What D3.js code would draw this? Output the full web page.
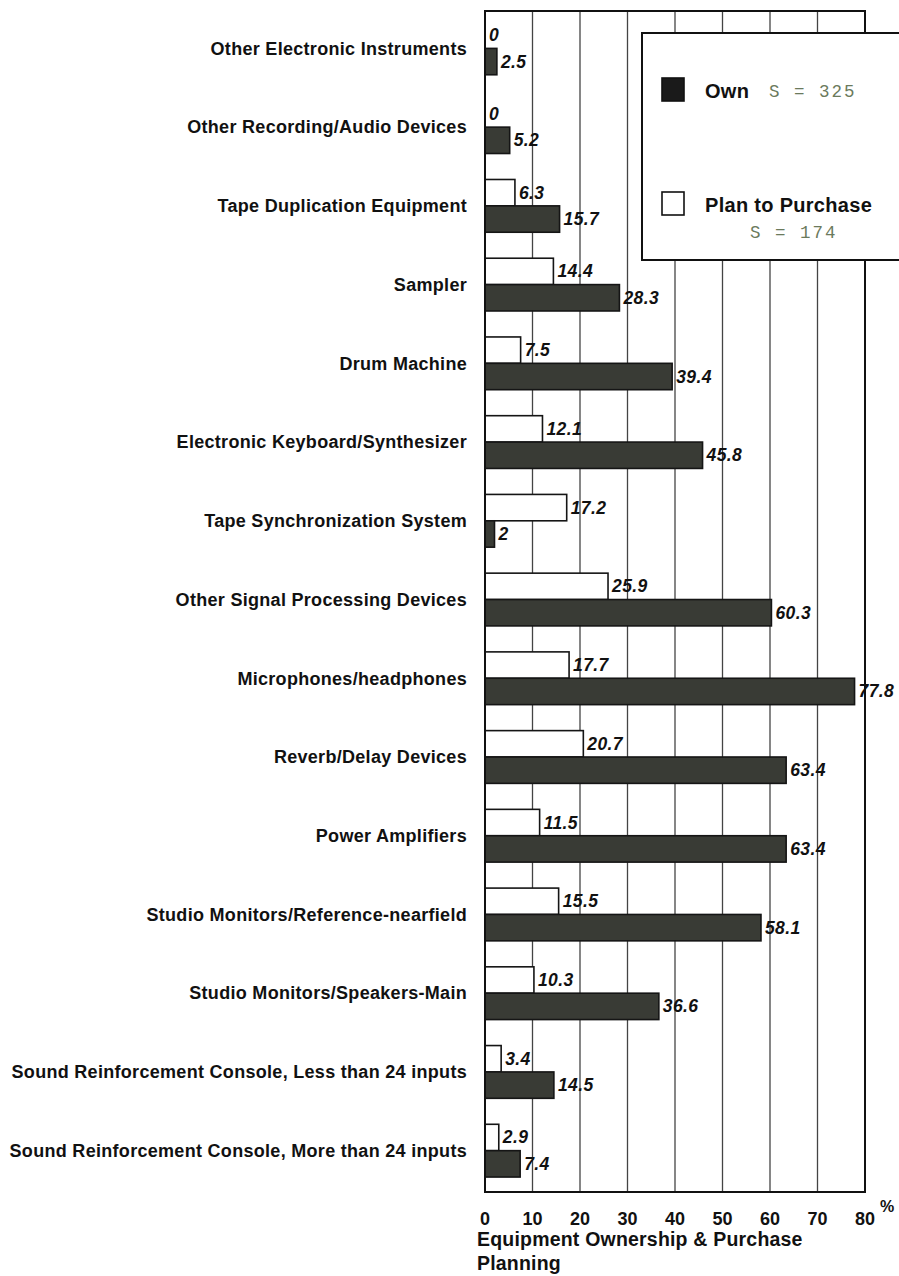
<!DOCTYPE html>
<html>
<head>
<meta charset="utf-8">
<script src="https://cdn.jsdelivr.net/npm/d3@7/dist/d3.min.js"></script>
<style>
  body { margin: 0; background: #fff; }
  svg { display: block; font-family: "Liberation Sans", Arial, sans-serif; }
</style>
</head>
<body>
<svg id="chart" width="899" height="1276"></svg>
<script>
// data, top to bottom
const categories = [
  "Other Electronic Instruments",
  "Other Recording/Audio Devices",
  "Tape Duplication Equipment",
  "Sampler",
  "Drum Machine",
  "Electronic Keyboard/Synthesizer",
  "Tape Synchronization System",
  "Other Signal Processing Devices",
  "Microphones/headphones",
  "Reverb/Delay Devices",
  "Power Amplifiers",
  "Studio Monitors/Reference-nearfield",
  "Studio Monitors/Speakers-Main",
  "Sound Reinforcement Console, Less than 24 inputs",
  "Sound Reinforcement Console, More than 24 inputs"
];
const planValues = [0, 0, 6.3, 14.4, 7.5, 12.1, 17.2, 25.9, 17.7, 20.7, 11.5, 15.5, 10.3, 3.4, 2.9];
const ownValues  = [2.5, 5.2, 15.7, 28.3, 39.4, 45.8, 2, 60.3, 77.8, 63.4, 63.4, 58.1, 36.6, 14.5, 7.4];
const xTicks = [0, 10, 20, 30, 40, 50, 60, 70, 80];
const legendItems = [
  {key: "own", label: "Own", sample: "S = 325"},
  {key: "plan", label: "Plan to Purchase", sample: "S = 174"}
];

const rows = categories.map((c, i) => ({cat: c, plan: planValues[i], own: ownValues[i]}));

const svg = d3.select("#chart");
const plotTop = 11, plotBottom = 1192;

const x = d3.scaleLinear().domain([0, 80]).range([485, 865]);
const y = d3.scaleBand().domain(categories).range([plotTop, plotBottom]);
const bw = y.bandwidth();
const ySub = d3.scaleBand().domain(["plan", "own"]).range([0.14 * bw, 0.81 * bw]);

const fill = {own: "#393b35", plan: "#fff"};

// gridlines
svg.append("g").selectAll("line")
  .data(xTicks.slice(1, -1)).enter().append("line")
  .attr("x1", d => x(d)).attr("x2", d => x(d))
  .attr("y1", plotTop).attr("y2", plotBottom)
  .attr("stroke", "#444").attr("stroke-width", 1.3);

// bars
const groups = svg.append("g").selectAll("g")
  .data(rows).enter().append("g")
  .attr("transform", d => `translate(0,${y(d.cat)})`);

["plan", "own"].forEach(k => {
  groups.append("rect")
    .attr("x", x(0))
    .attr("y", ySub(k))
    .attr("width", d => x(d[k]) - x(0))
    .attr("height", ySub.bandwidth())
    .attr("fill", fill[k])
    .attr("stroke", "#151515")
    .attr("stroke-width", 1.6);

  groups.append("text")
    .attr("x", d => x(d[k]) + 4)
    .attr("y", ySub(k) + ySub.bandwidth() / 2 + 6)
    .attr("font-size", 17.5)
    .attr("letter-spacing", 0.4)
    .attr("font-weight", "bold")
    .attr("font-style", "italic")
    .attr("fill", "#111")
    .text(d => d[k]);
});

// category labels
svg.append("g").selectAll("text")
  .data(rows).enter().append("text")
  .attr("x", 467)
  .attr("y", d => y(d.cat) + ySub("own"))
  .attr("dy", "0.35em")
  .attr("text-anchor", "end")
  .attr("font-size", 18)
  .attr("letter-spacing", 0.3)
  .attr("font-weight", "bold")
  .attr("fill", "#111")
  .text(d => d.cat);

// frame
svg.append("rect")
  .attr("x", x(0)).attr("y", plotTop)
  .attr("width", x(80) - x(0)).attr("height", plotBottom - plotTop)
  .attr("fill", "none").attr("stroke", "#111").attr("stroke-width", 2);

// x axis tick labels
svg.append("g").selectAll("text")
  .data(xTicks).enter().append("text")
  .attr("x", d => x(d))
  .attr("y", 1225)
  .attr("text-anchor", "middle")
  .attr("font-size", 18)
  .attr("font-weight", "bold")
  .attr("fill", "#111")
  .text(d => d);

svg.append("text")
  .attr("x", 880).attr("y", 1212)
  .attr("font-size", 16).attr("font-weight", "bold").attr("fill", "#111")
  .text("%");

const title = svg.append("text")
  .attr("font-size", 19.5).attr("letter-spacing", 0.2)
  .attr("font-weight", "bold").attr("fill", "#111");
title.append("tspan").attr("x", 477).attr("y", 1246).text("Equipment Ownership & Purchase");
title.append("tspan").attr("x", 477).attr("y", 1270).text("Planning");

// legend
const lg = svg.append("g");
lg.append("rect")
  .attr("x", 642).attr("y", 33).attr("width", 300).attr("height", 227)
  .attr("fill", "#fff").attr("stroke", "#111").attr("stroke-width", 2);

const lgY = {own: 90, plan: 204};
lg.selectAll("rect.key")
  .data(legendItems).enter().append("rect")
  .attr("class", "key")
  .attr("x", 662).attr("y", d => lgY[d.key] - 12)
  .attr("width", 22).attr("height", 23)
  .attr("fill", d => d.key === "own" ? "#1a1a1a" : "#fff")
  .attr("stroke", "#111").attr("stroke-width", 1.6);

lg.selectAll("text.lab")
  .data(legendItems).enter().append("text")
  .attr("class", "lab")
  .attr("x", 705).attr("y", d => lgY[d.key] + 8)
  .attr("font-size", 20).attr("letter-spacing", 0.3)
  .attr("font-weight", "bold").attr("fill", "#111")
  .text(d => d.label);

lg.selectAll("text.s")
  .data(legendItems).enter().append("text")
  .attr("class", "s")
  .attr("x", d => d.key === "own" ? 769 : 750)
  .attr("y", d => d.key === "own" ? lgY.own + 7 : 238)
  .attr("font-family", "'Liberation Mono', 'DejaVu Sans Mono', monospace")
  .attr("font-size", 17.5)
  .attr("letter-spacing", 2)
  .attr("fill", "#6b7a5c")
  .text(d => d.sample);
</script>
</body>
</html>
